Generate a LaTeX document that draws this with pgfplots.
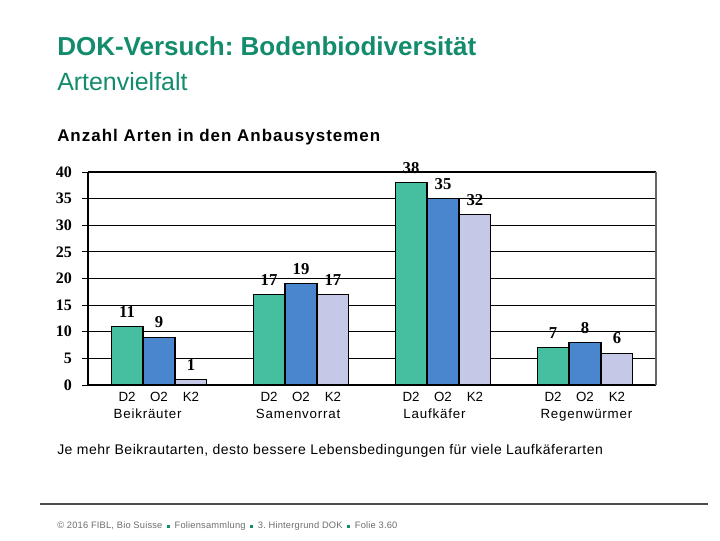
\documentclass[border=0pt]{standalone}
\usepackage{pgfplots}
\pgfplotsset{compat=1.18}
\usepackage{fontspec}
\setmainfont{Liberation Sans}
\newfontfamily\serif{Liberation Serif}
\newfontfamily\spaced[LetterSpace=6]{Liberation Sans}
\newfontfamily\lightspaced[LetterSpace=3.5]{Liberation Sans}
\newfontfamily\foottext[LetterSpace=2]{Liberation Sans}
\definecolor{titlegreen}{RGB}{18,140,108}
\definecolor{cD}{RGB}{70,190,160}
\definecolor{cO}{RGB}{74,134,206}
\definecolor{cK}{RGB}{198,200,232}
\definecolor{foot}{RGB}{110,110,110}
\frenchspacing
\begin{document}
\begin{tikzpicture}
\path[fill=white] (0pt,0pt) rectangle (540pt,405pt);
% titles
\node[anchor=base west,inner sep=0,text=titlegreen,font=\fontsize{19.5}{21}\selectfont\bfseries] at (42.75pt,363pt) {DOK-Versuch: Bodenbiodiversität};
\node[anchor=base west,inner sep=0,text=titlegreen,font=\fontsize{18.7}{20}\selectfont] at (42.75pt,336.75pt) {Artenvielfalt};
\node[anchor=base west,inner sep=0,font=\spaced\fontsize{12.7}{14}\selectfont\bfseries] at (42.75pt,298.5pt) {Anzahl Arten in den Anbausystemen};
\node[anchor=base west,inner sep=0,font=\lightspaced\fontsize{10.5}{12}\selectfont] at (42.75pt,64.5pt) {Je mehr Beikrautarten, desto bessere Lebensbedingungen für viele Laufkäferarten};
\draw[line width=0.9pt,black!70] (30pt,27pt) -- (531pt,27pt);
\node[anchor=base west,inner sep=0,text=foot,font=\foottext\fontsize{7}{8}\selectfont] at (42.75pt,9pt) {© 2016 FIBL, Bio Suisse\enspace\textcolor{titlegreen}{\rule{2.2pt}{2.2pt}}\enspace Foliensammlung\enspace\textcolor{titlegreen}{\rule{2.2pt}{2.2pt}}\enspace 3. Hintergrund DOK\enspace\textcolor{titlegreen}{\rule{2.2pt}{2.2pt}}\enspace Folie 3.60};
\begin{axis}[
  at={(66pt,116.25pt)}, anchor=south west,
  scale only axis, width=426pt, height=159.75pt,
  xmin=0, xmax=4, ymin=0, ymax=40,
  ytick={0,5,...,40},
  yticklabel style={font=\serif\fontsize{12}{14}\selectfont\bfseries, xshift=-4pt},
  /pgf/number format/assume math mode=true,
  ymajorgrids, grid style={black, line width=0.6pt},
  tick align=outside, major tick length=4.5pt,
  y tick style={black, line width=0.6pt},
  xtick={0.275,0.5,0.725,1.275,1.5,1.725,2.275,2.5,2.725,3.275,3.5,3.725},
  xticklabels={D2,O2,K2,D2,O2,K2,D2,O2,K2,D2,O2,K2},
  x tick style={draw=none},
  xticklabel style={font=\fontsize{10}{12}\selectfont, yshift=3pt},
  extra x ticks={1,2,3}, extra x tick labels={},
  extra x tick style={major tick length=5pt, tick style={draw=black,line width=0.6pt}},
  axis x line*=bottom, axis y line*=left,
  axis line style={black, line width=0.9pt},
  ybar, bar width=0.225,
  clip=false,
  nodes near coords,
  every node near coord/.append style={font=\serif\fontsize{12.5}{14}\selectfont\bfseries, yshift=3pt},
]
\addplot[fill=cD, draw=black, line width=0.8pt, bar shift=-0.225] coordinates {(0.5,11) (1.5,17) (2.5,38) (3.5,7)};
\addplot[fill=cO, draw=black, line width=0.8pt, bar shift=0] coordinates {(0.5,9) (1.5,19) (2.5,35) (3.5,8)};
\addplot[fill=cK, draw=black, line width=0.8pt, bar shift=0.225] coordinates {(0.5,1) (1.5,17) (2.5,32) (3.5,6)};
\draw[black, line width=0.9pt] (axis cs:0,40) -- (axis cs:4,40);
\draw[black!60, line width=0.9pt] (axis cs:4,0) -- (axis cs:4,40);
\node[anchor=base,font=\spaced\fontsize{10}{12}\selectfont] at (axis cs:0.42,-6.3) {Beikräuter};
\node[anchor=base,font=\spaced\fontsize{10}{12}\selectfont] at (axis cs:1.48,-6.3) {Samenvorrat};
\node[anchor=base,font=\spaced\fontsize{10}{12}\selectfont] at (axis cs:2.44,-6.3) {Laufkäfer};
\node[anchor=base,font=\spaced\fontsize{10}{12}\selectfont] at (axis cs:3.51,-6.3) {Regenwürmer};
\end{axis}
\end{tikzpicture}
\end{document}
